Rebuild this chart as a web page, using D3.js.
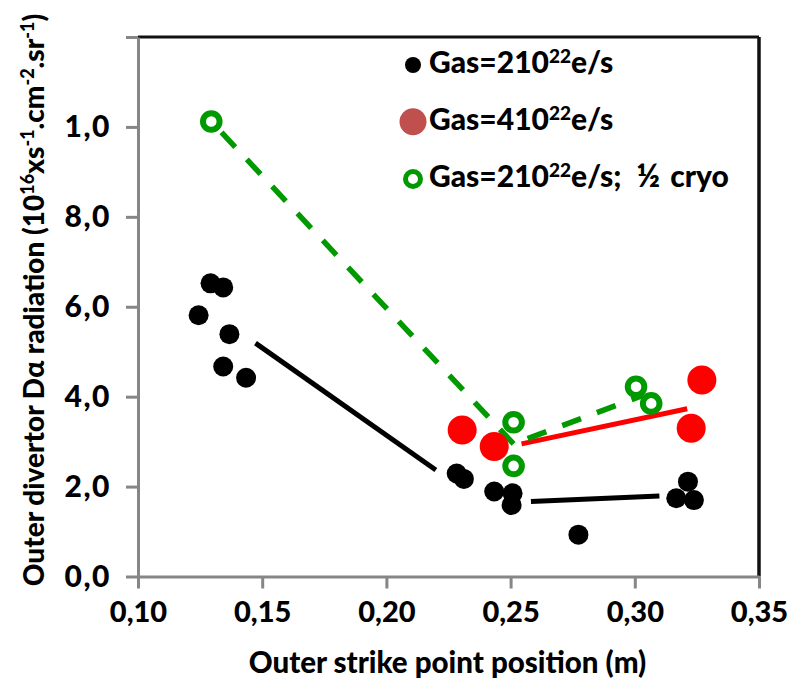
<!DOCTYPE html>
<html>
<head>
<meta charset="utf-8">
<script src="https://cdn.jsdelivr.net/npm/d3@7"></script>
<style>
  body { margin: 0; background: #fff; }
  svg { display: block; }
  text { font-family: Lato, "Liberation Sans", sans-serif; font-weight: 900; fill: #000; }
</style>
</head>
<body>
<svg id="chart" width="796" height="691"></svg>
<script>
// Axis ticks and their printed labels
const xTicks = [0.10, 0.15, 0.20, 0.25, 0.30, 0.35];
const xTickLabels = ["0,10", "0,15", "0,20", "0,25", "0,30", "0,35"];
const yTicks = [0, 2, 4, 6, 8, 10, 12];
const yTickLabels = ["0,0", "2,0", "4,0", "6,0", "8,0", "1,0", ""];

// Gas = 2·10^22 e/s
const gas2X = [0.1244, 0.1292, 0.1343, 0.1368, 0.1343, 0.1435, 0.2283, 0.2312, 0.2434, 0.2508, 0.2504, 0.2773, 0.3214, 0.3167, 0.3238];
const gas2Y = [5.81, 6.52, 6.43, 5.39, 4.67, 4.42, 2.29, 2.17, 1.89, 1.85, 1.59, 0.93, 2.11, 1.74, 1.70];

// Gas = 4·10^22 e/s
const gas4X = [0.2305, 0.2434, 0.3270, 0.3227];
const gas4Y = [3.26, 2.89, 4.37, 3.30];

// Gas = 2·10^22 e/s, half cryopump
const cryoX = [0.1295, 0.2512, 0.2512, 0.3005, 0.3066];
const cryoY = [10.12, 3.43, 2.46, 4.22, 3.85];

// Trend segments drawn over the data (start and end of each)
const gas2TrendAX = [0.1473, 0.2199];
const gas2TrendAY = [5.19, 2.37];
const gas2TrendBX = [0.2582, 0.3099];
const gas2TrendBY = [1.667, 1.793];
const gas4TrendX = [0.2544, 0.3211];
const gas4TrendY = [2.95, 3.73];
const cryoTrendAX = [0.1295, 0.2512];
const cryoTrendAY = [10.12, 2.95];
const cryoTrendBX = [0.2512, 0.3035];
const cryoTrendBY = [2.95, 4.035];

// Legend texts: main part, superscript, then trailing pieces
const legendLabels = [
  { main: "Gas=210", sup: "22", tail: ["e/s"] },
  { main: "Gas=410", sup: "22", tail: ["e/s"] },
  { main: "Gas=210", sup: "22", tail: ["e/s;", "\u00BD", "cryo"] }
];

const BLACK = "#000000", RED = "#FF0000", RED_KEY = "#C0504D", GREEN = "#009A00", AXIS = "#868686";

const svg = d3.select("#chart");
const plot = { left: 138, right: 759, top: 37, bottom: 576.5 };

const x = d3.scaleLinear().domain([0.10, 0.35]).range([plot.left, plot.right]);
const y = d3.scaleLinear().domain([0, 12]).range([plot.bottom, plot.top]);

// Plot frame: top and right edges
svg.append("line").attr("x1", plot.left).attr("x2", plot.right)
  .attr("y1", plot.top).attr("y2", plot.top)
  .attr("stroke", "#111").attr("stroke-width", 3);
svg.append("line").attr("x1", plot.right).attr("x2", plot.right)
  .attr("y1", plot.top).attr("y2", plot.bottom)
  .attr("stroke", "#111").attr("stroke-width", 3.5);

// Axes
const xAxis = d3.axisBottom(x).tickValues(xTicks)
  .tickFormat((d, i) => xTickLabels[i]).tickSizeInner(12).tickSizeOuter(0).tickPadding(13);
const yAxis = d3.axisLeft(y).tickValues(yTicks)
  .tickFormat((d, i) => yTickLabels[i]).tickSizeInner(12).tickSizeOuter(0).tickPadding(15);

const gx = svg.append("g").attr("transform", `translate(0,${plot.bottom})`).call(xAxis);
const gy = svg.append("g").attr("transform", `translate(${plot.left},0)`).call(yAxis);

[gx, gy].forEach(g => {
  g.select(".domain").attr("stroke", AXIS).attr("stroke-width", 3);
  g.selectAll(".tick line").attr("stroke", AXIS).attr("stroke-width", 3);
  g.selectAll(".tick text").attr("fill", "#000")
    .style("font-family", "Lato, 'Liberation Sans', sans-serif").style("font-weight", 900);
});
gx.selectAll(".tick text").attr("font-size", 29);
gy.selectAll(".tick text").attr("font-size", 30).attr("letter-spacing", 1.5);

// Trend segments
function segment(xs, ys, color, dashed) {
  const line = d3.line().x((d, i) => x(xs[i])).y((d, i) => y(ys[i]));
  const p = svg.append("path").datum(xs).attr("d", line)
    .attr("fill", "none").attr("stroke", color).attr("stroke-width", dashed ? 5.5 : 5);
  if (dashed) p.attr("stroke-dasharray", "20,17").attr("stroke-dashoffset", 22);
}
segment(gas2TrendAX, gas2TrendAY, BLACK, false);
segment(gas2TrendBX, gas2TrendBY, BLACK, false);
segment(gas4TrendX, gas4TrendY, RED, false);
segment(cryoTrendAX, cryoTrendAY, GREEN, true);
segment(cryoTrendBX, cryoTrendBY, GREEN, true);

// Data points
svg.append("g").selectAll("circle").data(gas2X).join("circle")
  .attr("cx", (d, i) => x(gas2X[i])).attr("cy", (d, i) => y(gas2Y[i]))
  .attr("r", 10).attr("fill", BLACK);

svg.append("g").selectAll("circle").data(gas4X).join("circle")
  .attr("cx", (d, i) => x(gas4X[i])).attr("cy", (d, i) => y(gas4Y[i]))
  .attr("r", 14.5).attr("fill", RED);

svg.append("g").selectAll("circle").data(cryoX).join("circle")
  .attr("cx", (d, i) => x(cryoX[i])).attr("cy", (d, i) => y(cryoY[i]))
  .attr("r", 8.3).attr("fill", "#fff").attr("stroke", GREEN).attr("stroke-width", 6);

// Legend
const legendRows = [
  { cy: 65, baseline: 73, marker: g => g.append("circle").attr("r", 8).attr("fill", BLACK) },
  { cy: 121.7, baseline: 130, marker: g => g.append("circle").attr("r", 13.5).attr("fill", RED_KEY) },
  { cy: 179, baseline: 187, marker: g => g.append("circle").attr("r", 7.5).attr("fill", "#fff").attr("stroke", GREEN).attr("stroke-width", 5) }
];
legendRows.forEach((row, i) => {
  const m = svg.append("g").attr("transform", `translate(413,${row.cy})`);
  row.marker(m);
  const t = svg.append("text").attr("x", 429).attr("y", row.baseline).attr("font-size", 30);
  t.append("tspan").text(legendLabels[i].main);
  t.append("tspan").attr("font-size", 19).attr("dy", -10).text(legendLabels[i].sup);
  legendLabels[i].tail.forEach((s, k) => {
    const sp = t.append("tspan").text(s);
    if (k === 0) sp.attr("dy", 10);
    else sp.attr("dx", k === 1 ? 15 : 10).attr("font-size", k === 1 ? 32 : 30);
  });
});

// Axis titles
svg.append("text").attr("x", (plot.left + plot.right) / 2 - 1).attr("y", 673)
  .attr("text-anchor", "middle").attr("font-size", 29.5)
  .text("Outer strike point position (m)");

const yt = svg.append("text").attr("transform", "translate(44,300) rotate(-90)")
  .attr("text-anchor", "middle").attr("font-size", 28);
const ytParts = [
  ["Outer divertor D\u03B1 radiation (10", false],
  ["16", true], ["xs", false], ["-1", true], [".cm", false], ["-2", true], [".sr", false], ["-1", true], [")", false]
];
let raised = false;
ytParts.forEach(([s, sup]) => {
  const sp = yt.append("tspan").text(s);
  if (sup) { sp.attr("font-size", 18).attr("dy", raised ? 0 : -10); raised = true; }
  else { sp.attr("dy", raised ? 10 : 0); raised = false; }
});
</script>
</body>
</html>
